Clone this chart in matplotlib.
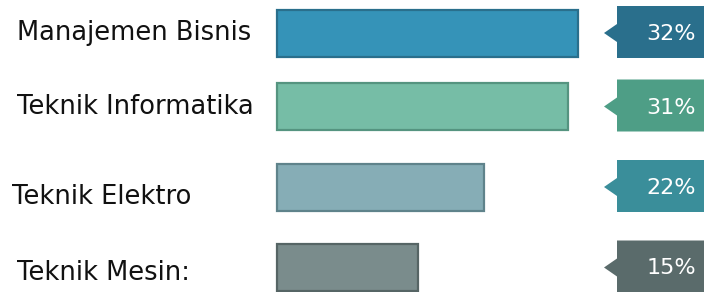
import matplotlib
matplotlib.use("Agg")
import matplotlib.pyplot as plt
from matplotlib.patches import Polygon

# ---- data ----
categories = ["Manajemen Bisnis", "Teknik Informatika", "Teknik Elektro", "Teknik Mesin:"]
values = [32, 31, 22, 15]
value_labels = ["32%", "31%", "22%", "15%"]

# ---- styles / layout ----
bar_fill = ["#3593b8", "#76bda6", "#86adb6", "#7a8c8c"]
bar_edge = ["#2a6f8c", "#559480", "#5f838b", "#566565"]
tag_color = ["#2a6f8c", "#4e9e86", "#3a8e9a", "#5a6b6b"]
ypos = [33, 106.5, 187, 267.5]      # row centres (pixel units from top)
label_x = [17, 17, 12, 17]
label_dy = [0, 0, 10, 5]

W, H = 704, 292
fig = plt.figure(figsize=(W / 100, H / 100), dpi=100)
fig.patch.set_facecolor("white")

# overlay axes in pixel coordinates for labels / tags
lay = fig.add_axes([0, 0, 1, 1])
lay.set_xlim(0, W)
lay.set_ylim(H, 0)
lay.axis("off")

# bar axes: x in percent units, origin at pixel 277
x0_px, px_per = 277, 9.4
ax = fig.add_axes([0, 0, 1, 1], sharey=lay)
ax.set_xlim(-x0_px / px_per, (W - x0_px) / px_per)
ax.set_ylim(H, 0)
ax.axis("off")
ax.patch.set_alpha(0)

ax.barh(ypos, values, height=47, left=0, color=bar_fill,
        edgecolor=bar_edge, linewidth=1.6, zorder=2)

for i, (cat, yy) in enumerate(zip(categories, ypos)):
    lay.text(label_x[i], yy + label_dy[i], cat, ha="left", va="center",
             fontsize=18.5, color="#111111", family="DejaVu Sans")
    # callout tag
    x_left, x_right, tip = 617, W + 2, 604
    top, bot = yy - 27, yy + 25
    poly = Polygon([(x_left, top), (x_right, top), (x_right, bot), (x_left, bot),
                    (x_left, yy + 9), (tip, yy), (x_left, yy - 9)],
                   closed=True, facecolor=tag_color[i], edgecolor="none", zorder=3)
    lay.add_patch(poly)
    lay.text(696, yy + 1, value_labels[i], ha="right", va="center",
             fontsize=16, color="white", family="DejaVu Sans", zorder=4)

fig.savefig("out.png", dpi=100, facecolor="white")
